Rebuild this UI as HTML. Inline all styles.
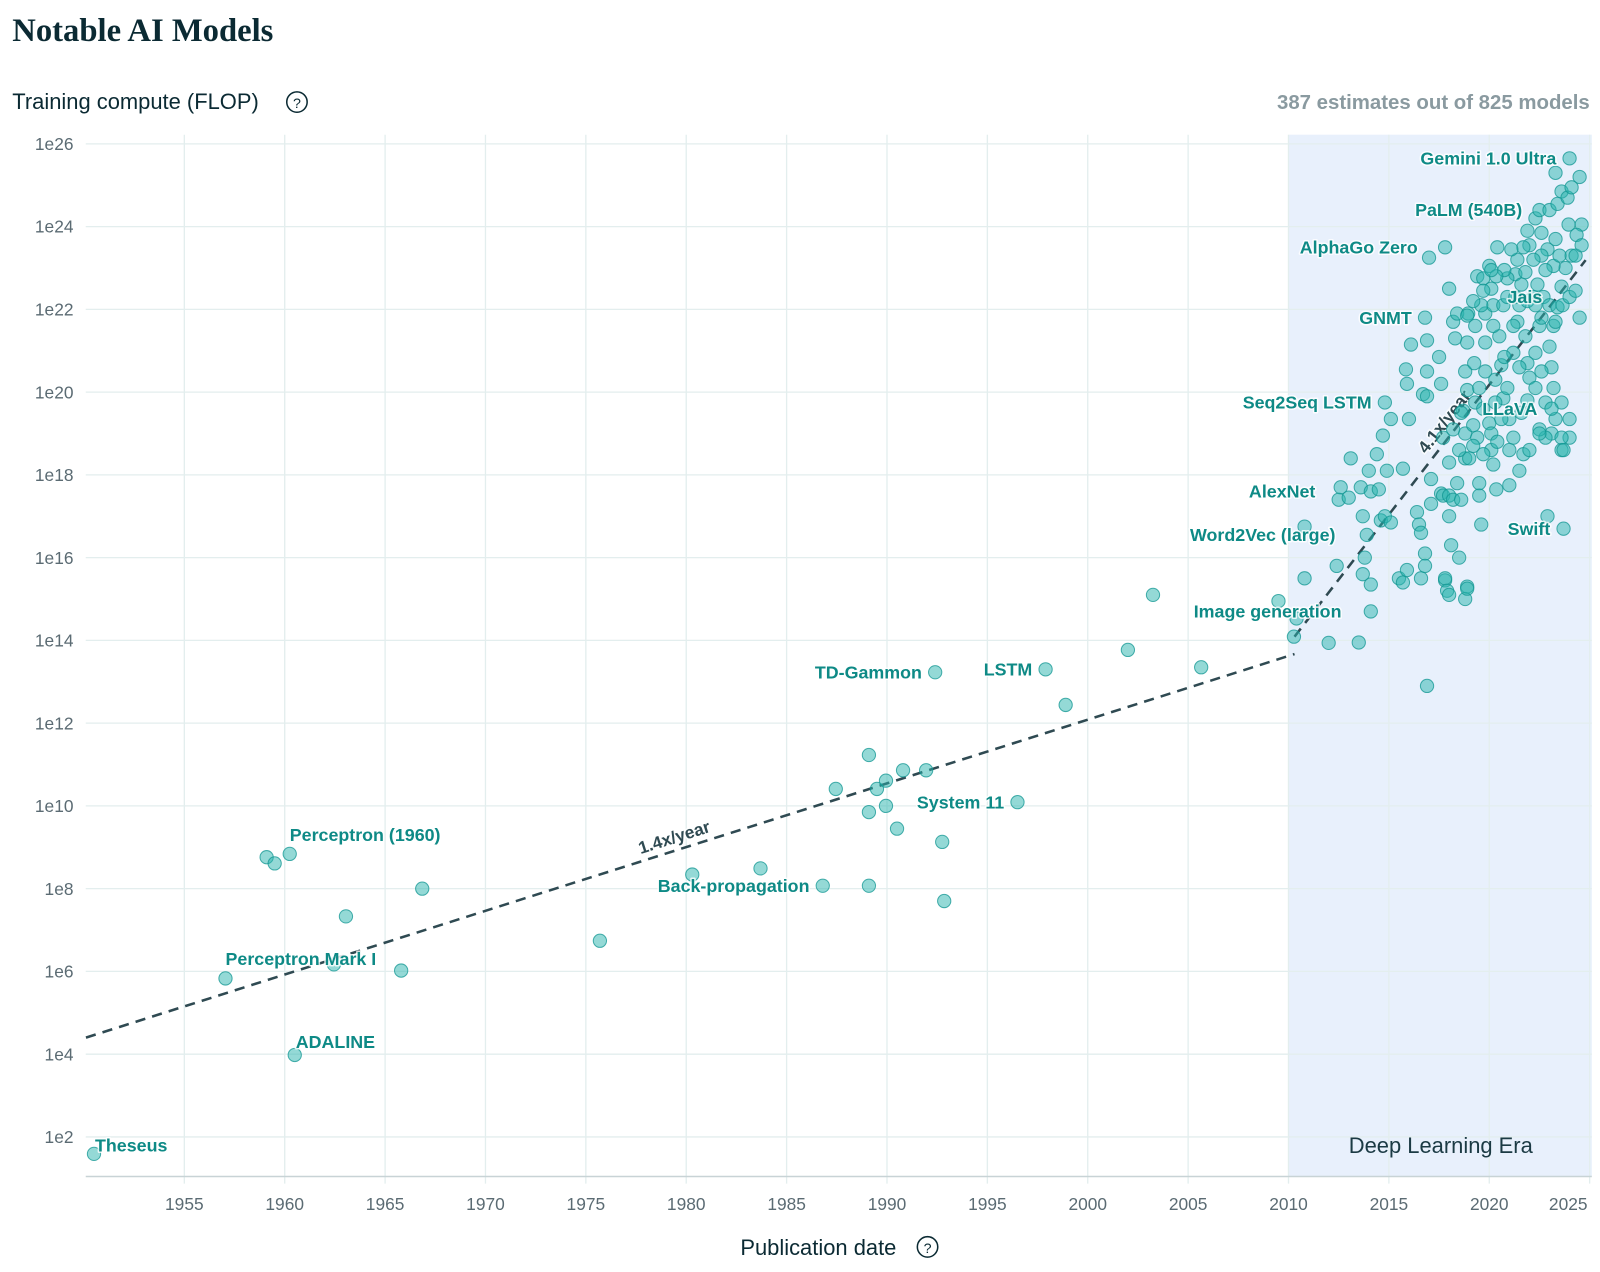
<!DOCTYPE html>
<html><head><meta charset="utf-8">
<style>
html,body{margin:0;padding:0;background:#fff;}
svg{display:block;font-family:"Liberation Sans",sans-serif;}
.tick{font-size:17px;fill:#5b6b73;}
.lbl{font-size:17.5px;font-weight:bold;fill:#0e8a86;paint-order:stroke;stroke:#fff;stroke-width:3px;stroke-linejoin:round;stroke-opacity:0.8;}
</style></head>
<body>
<svg id="chart" width="1600" height="1272" viewBox="0 0 1568 1246.6">
<text x="12" y="40" font-family="Liberation Serif,serif" font-size="32" font-weight="bold" fill="#0b2a33">Notable AI Models</text>
<text x="12" y="107" font-size="21.5" fill="#0b2a33">Training compute (FLOP)</text>
<g><circle cx="291" cy="100" r="10" fill="none" stroke="#0b2a33" stroke-width="1.5"/><text x="291" y="106" font-size="14" text-anchor="middle" fill="#0b2a33">?</text></g>
<text x="1558" y="107" font-size="20" text-anchor="end" fill="#8a9aa0" font-weight="bold">387 estimates out of 825 models</text>
<rect x="1263" y="132" width="297" height="1021" fill="#e8f0fc"/>
<g id="grid"></g>
<line x1="84" y1="1153" x2="1560" y2="1153" stroke="#c8d3d6" stroke-width="1.5"/>
<g id="trends"></g>
<g id="points"></g>
<g id="labels"></g>
<text x="1412" y="1130" font-size="21.5" text-anchor="middle" fill="#1b3a44">Deep Learning Era</text>
<text x="802" y="1230" font-size="21.5" text-anchor="middle" fill="#0b2a33">Publication date</text>
<g><circle cx="909" cy="1222" r="10" fill="none" stroke="#0b2a33" stroke-width="1.5"/><text x="909" y="1228" font-size="14" text-anchor="middle" fill="#0b2a33">?</text></g>
</svg>
<script>
const xTicks=[1955,1960,1965,1970,1975,1980,1985,1990,1995,2000,2005,2010,2015,2020,2025];
const yTicks=[2,4,6,8,10,12,14,16,18,20,22,24,26];
const trendEarly=[[1950.1,4.40],[2010.3,13.67]];
const trendDeep=[[2010.3,14.09],[2024.8,23.19]];
const years=[1950.5,1957.05,1959.1,1959.5,1960.25,1960.5,1962.45,1963.05,1965.8,1966.85,1975.7,1980.3,1983.7,1986.8,1987.45,1989.1,1989.1,1989.1,1989.5,1989.95,1989.95,1990.5,1990.8,1991.95,1992.4,1992.75,1992.85,1996.5,1997.9,1998.9,2002.0,2003.25,2005.65,2009.5,2010.27,2010.4,
2010.8,2010.8,2012.0,2012.4,2012.6,2012.5,2013,2013.1,2013.6,2013.7,2013.9,2013.8,2013.7,2014.1,2014.1,2013.5,2014,2014.1,2014.4,2014.7,2014.8,2014.5,2014.6,2014.8,2015.1,2014.9,2015.1,2015.7,2015.5,2015.7,2015.9,2015.9,2015.85,2016.1,2016,2016.4,2016.5,2016.6,2016.6,2016.8,2016.8,2016.7,2016.9,2016.9,2016.8,2016.9,2016.9,2017,2017.1,2017.1,2017.5,2017.6,2017.6,2017.7,2017.8,2017.8,2017.8,2017.9,2018,2018,2018,2017.7,2018,2018.1,2018,2018.2,2018.4,2018.2,2018.3,2018.4,2018.5,2018.6,2018.8,2018.9,2018.9,2018.8,2018.7,2018.9,2018.8,2018.9,2018.95,2018.8,2019.2,2019.3,2019.4,2019.5,2019.5,2019.6,2019.4,2019.7,2019.8,2019.8,2020,2020.1,2020.2,2020.4,2020.5,2020.6,2020,2020.1,2020.2,2020.35,2021,2020.7,2020.9,2021,2021.2,2021.7,2021.6,2021.9,2022,2022.3,2022.5,2022.7,2023,2021.3,2021.5,2021.8,2020.9,2021.4,2021.2,2021.8,2022.2,2022.4,2022,2021.9,2022.3,2022.6,2022.9,2023.3,2022.5,2023,2023.4,2023.6,2023.9,2024.1,2024.5,2023.3,2024,2024.6,2024.35,2024.1,2023.8,2023.6,2023.4,2023.2,2023,2023.1,2023.2,2023.6,2024,2024,2023.6,2023.1,2022.8,2022.5,2022.9,2023.7,2023.3,2022.8,2022.3,2022.6,2021.9,2021.5,2021.2,2020.75,2020.3,2019.8,2019.5,2019.25,2020.3,2020.6,2019.7,2020.1,2020.4,2019.7,2019.2,2019,2018.5,2018.2,2018.6,2019.3,2019.6,2020.2,2020.7,2020.9,2021.3,2021.6,2021.9,2022.3,2022.6,2023.3,2023.65,2024,2024.3,2024.5,2024.3,2024.6,2023.95,2023.2,2022.8,2023.5,2022.6,2022.2,2021.7,2021.4,2021.1,2020.75,2020.35,2020.1,2019.7,2019.2,2018.9,2021,2021.5,2022,2022.5,2023.1,2023.6,2023.7];
const logFlop=[1.59,5.83,8.76,8.61,8.84,3.98,6.17,7.33,6.02,8.0,6.74,8.34,8.49,8.07,10.41,11.23,9.85,8.07,10.41,10.61,10.0,9.45,10.86,10.86,13.23,9.13,7.70,10.09,13.3,12.44,13.77,15.1,13.35,14.95,14.09,14.53,
15.5,16.75,13.94,15.8,17.7,17.4,17.45,18.4,17.7,17.0,16.55,16.0,15.6,15.35,14.7,13.95,18.1,17.6,18.5,18.95,19.75,17.65,16.9,17.0,16.85,18.1,19.35,18.15,15.5,15.4,15.7,20.2,20.55,21.15,19.35,17.1,16.8,15.5,16.6,16.1,15.8,19.95,20.5,21.25,21.8,12.9,19.9,23.25,17.3,17.9,20.85,20.2,17.55,17.5,15.45,23.5,15.5,15.2,15.1,22.5,18.3,18.9,17.0,16.3,17.5,17.4,17.8,21.7,21.3,21.9,16.0,17.4,15.0,15.3,15.25,18.4,19.55,20.05,20.5,21.2,21.9,19.0,19.2,19.75,18.9,17.5,17.8,16.8,22.8,22.75,21.9,21.2,23.05,22.5,22.1,23.5,21.35,20.65,19.25,18.6,18.25,17.65,17.75,19.85,20.1,19.35,18.9,18.5,19.5,19.8,20.35,20.95,21.6,22.3,22.1,22.85,22.1,22.9,22.75,21.7,21.6,21.35,22.3,22.6,23.55,23.9,24.2,23.85,23.45,23.7,24.4,24.4,24.55,24.85,24.7,24.95,25.2,25.3,25.65,24.05,23.8,23.3,23.0,22.55,22.05,21.6,21.1,20.6,20.1,19.75,19.35,18.9,18.6,19.0,18.9,19.1,17.0,16.7,19.35,19.75,20.1,20.5,20.7,20.6,20.95,20.85,20.3,20.5,20.1,20.7,19.75,19.35,19.6,19.0,18.8,18.5,18.7,18.4,18.6,19.1,19.5,21.6,22.1,21.6,22.1,22.3,22.3,22.6,22.2,22.1,21.8,21.7,22.1,22.3,22.45,21.8,23.3,23.55,24.05,23.05,22.95,23.3,23.3,23.2,23.5,23.2,23.45,22.95,22.8,22.95,22.45,22.2,21.85,18.6,18.1,18.6,19.0,19.6,18.9,18.6];
const labelNames=["Gemini 1.0 Ultra","PaLM (540B)","AlphaGo Zero","Jais","GNMT","Seq2Seq LSTM","LLaVA","AlexNet","Word2Vec (large)","Swift","Image generation","TD-Gammon","LSTM","System 11","Perceptron (1960)","Back-propagation","Perceptron Mark I","ADALINE","Theseus"];
const labelYears=[2024,2022.3,2017.1,2023.3,2016.8,2014.8,2019.6,2012.0,2013.0,2023.7,2013.3,1992.4,1997.9,1996.5,1960.2,1986.8,1957.0,1960.5,1950.5];
const labelLogs=[25.65,24.4,23.5,22.3,21.8,19.75,19.6,17.6,16.55,16.7,14.7,13.23,13.3,10.09,9.3,8.07,6.3,4.3,1.8];
const labelAnchor=["end","end","end","end","end","end","start","end","end","end","end","end","end","end","start","end","start","start","start"];

const NS="http://www.w3.org/2000/svg";
function X(y){return 279+(y-1960)*19.675;}
function Y(l){return 141+(26-l)*40.55;}
function mk(tag,attrs,parent){const e=document.createElementNS(NS,tag);for(const k in attrs)e.setAttribute(k,attrs[k]);parent.appendChild(e);return e;}
const grid=document.getElementById('grid');
xTicks.forEach(t=>{
  const l=mk('line',{x1:X(t),x2:X(t),y1:132,y2:1160,stroke:'#e3eeee','stroke-width':1.3},grid);
  
  
  const tx=mk('text',{x:t===2025?X(t)-21:X(t),y:1186,'text-anchor':'middle',class:'tick'},grid);
  tx.textContent=t;
  
  
});
yTicks.forEach(t=>{
  const l=mk('line',{x1:84,x2:1560,y1:Y(t),y2:Y(t),stroke:'#e3eeee','stroke-width':1.3},grid);
  
  
  const tx=mk('text',{x:72,y:Y(t)+6,'text-anchor':'end',class:'tick'},grid);
  tx.textContent='1e'+t;
  
  
});
const tr=document.getElementById('trends');
[[trendEarly,'1.4x/year',0.49],[trendDeep,'4.1x/year',0.55]].forEach(([d,lab,f],i)=>{
  const x1=X(d[0][0]),y1=Y(d[0][1]),x2=X(d[1][0]),y2=Y(d[1][1]);
  const l=mk('line',{x1,y1,x2,y2,stroke:'#2f4a52','stroke-width':2.5,'stroke-dasharray':'10 7'},tr);
  
  
  const ang=Math.atan2(y2-y1,x2-x1)*180/Math.PI;
  const mx=x1+(x2-x1)*f, my=y1+(y2-y1)*f;
  const t=mk('text',{x:mx,y:my-7,'text-anchor':'middle','font-size':17,fill:'#2f4a52','font-weight':'bold',transform:`rotate(${ang} ${mx} ${my})`,'paint-order':'stroke',stroke:'#fff','stroke-width':3,'stroke-opacity':0.7},tr);
  t.textContent=lab;
  
  
});
const pts=document.getElementById('points');
years.forEach((yr,i)=>{
  const c=mk('circle',{cx:X(yr),cy:Y(logFlop[i]),r:6.5,fill:'rgba(42,180,174,0.5)',stroke:'rgba(16,150,145,0.75)','stroke-width':1},pts);
  
  
});
const lg=document.getElementById('labels');
labelNames.forEach((n,i)=>{
  const a=labelAnchor[i];
  const x=X(labelYears[i])+(a==='end'?-13:1);
  const t=mk('text',{x:x,y:Y(labelLogs[i])+6,'text-anchor':a,class:'lbl'},lg);
  t.textContent=n;
  
  
});
</script>
</body></html>
